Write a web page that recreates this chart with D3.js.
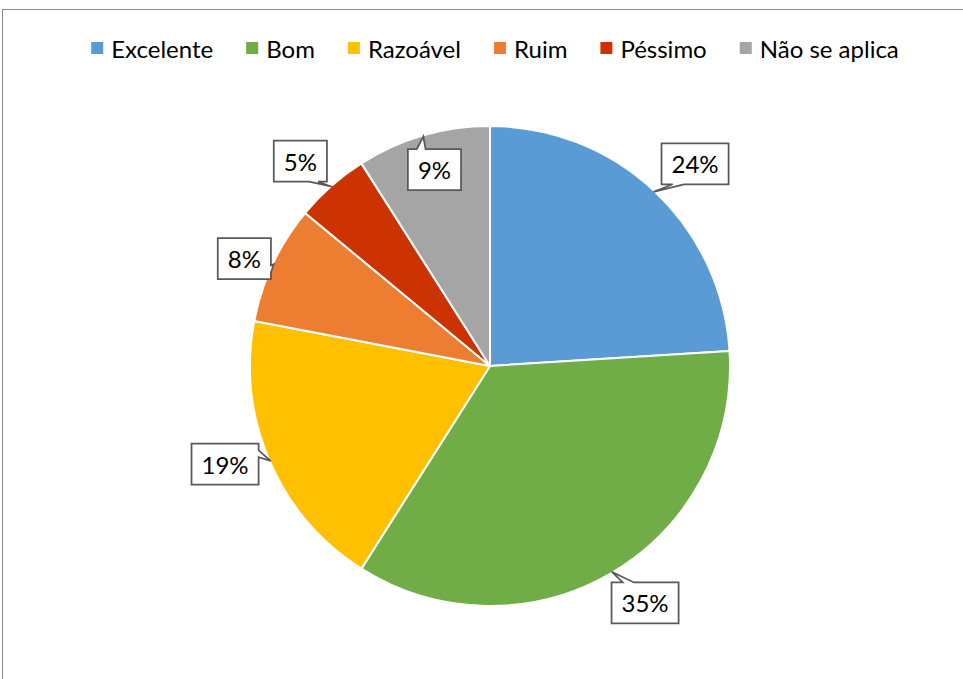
<!DOCTYPE html>
<html>
<head>
<meta charset="utf-8">
<script src="https://cdn.jsdelivr.net/npm/d3@7"></script>
<style>
  body { margin: 0; background: #fff; }
  svg { display: block; }
  text { font-family: Lato, "Noto Sans", sans-serif; fill: #000; }
</style>
</head>
<body>
<svg id="chart" width="963" height="679"></svg>
<script>
// Avaliação: share of answers per rating (percent)
const categories = ["Excelente", "Bom", "Razoável", "Ruim", "Péssimo", "Não se aplica"];
const shares = [24, 35, 19, 8, 5, 9];
const colors = ["#5B9BD5", "#70AD47", "#FFC000", "#ED7D31", "#CC3300", "#A5A5A5"];

// Callout placement: box centre distance (fraction of radius) and angular nudge in degrees
const labelRadius = [1.2, 1.18, 1.177, 1.117, 1.163, 0.85];
const labelNudge = [2.2, -2.6, 3.1, -1.6, -1.4, 0.4];

const W = 963, H = 679;
const cx = 490, cy = 366, R = 240;
const fontSize = 24;

const svg = d3.select("#chart");

// chart area frame
svg.append("rect")
  .attr("x", 2.5).attr("y", 9.5)
  .attr("width", 1000).attr("height", 1000)
  .attr("fill", "#fff")
  .attr("stroke", "#8c8c8c").attr("stroke-width", 1);

const pie = d3.pie().sort(null).value(d => d)(shares);
const arc = d3.arc().innerRadius(0).outerRadius(R);

const g = svg.append("g").attr("transform", `translate(${cx},${cy})`);
g.selectAll("path.slice")
  .data(pie)
  .join("path")
  .attr("class", "slice")
  .attr("d", arc)
  .attr("fill", (d, i) => colors[i])
  .attr("stroke", "#fff")
  .attr("stroke-width", 2)
  .attr("stroke-linejoin", "round");

// polar helper: angle measured clockwise from 12 o'clock
const polar = (a, r) => [r * Math.sin(a), -r * Math.cos(a)];

// rectangle callout with a wedge pointing at (tx, ty)
function calloutPath(x0, y0, w, h, tx, ty) {
  const x1 = x0 + w, y1 = y0 + h;
  const bx = x0 + w / 2, by = y0 + h / 2;
  const dx = (tx - bx) / w, dy = (ty - by) / h;
  let side;
  if (Math.abs(dy) > Math.abs(dx)) side = dy < 0 ? "top" : "bottom";
  else side = dx < 0 ? "left" : "right";
  const ha = tx < bx ? [x0 + w / 6, x0 + w / 3] : [x0 + 2 * w / 3, x0 + 5 * w / 6];
  const va = ty < by ? [y0 + h / 6, y0 + h / 3] : [y0 + 2 * h / 3, y0 + 5 * h / 6];
  const p = [];
  p.push([x0, y0]);
  if (side === "top") p.push([ha[0], y0], [tx, ty], [ha[1], y0]);
  p.push([x1, y0]);
  if (side === "right") p.push([x1, va[0]], [tx, ty], [x1, va[1]]);
  p.push([x1, y1]);
  if (side === "bottom") p.push([ha[1], y1], [tx, ty], [ha[0], y1]);
  p.push([x0, y1]);
  if (side === "left") p.push([x0, va[1]], [tx, ty], [x0, va[0]]);
  return "M" + p.map(q => q.join(",")).join("L") + "Z";
}

// data labels
const labels = g.selectAll("g.label").data(pie).join("g").attr("class", "label");
labels.each(function (d, i) {
  const sel = d3.select(this);
  const mid = (d.startAngle + d.endAngle) / 2;
  const la = mid + labelNudge[i] * Math.PI / 180;
  const [lx, ly] = polar(la, R * labelRadius[i]);
  const [tx, ty] = polar(mid, R - 1);
  const path = sel.append("path");
  const txt = sel.append("text")
    .attr("x", lx).attr("y", ly)
    .attr("text-anchor", "middle")
    .attr("dominant-baseline", "central")
    .attr("font-size", fontSize)
    .text(d3.format(".0f")(shares[i]) + "%");
  const tw = txt.node().getComputedTextLength();
  const bw = tw + 20, bh = 41;
  path.attr("d", calloutPath(lx - bw / 2, ly - bh / 2, bw, bh, tx, ty))
    .attr("fill", "#fff")
    .attr("stroke", "#595959")
    .attr("stroke-width", 1.75)
    .attr("stroke-linejoin", "miter");
});

// legend
const legend = svg.append("g");
const items = legend.selectAll("g").data(categories).join("g");
items.append("rect")
  .attr("width", 12).attr("height", 12)
  .attr("y", -6)
  .attr("fill", (d, i) => colors[i]);
items.append("text")
  .attr("x", 20).attr("y", 0)
  .attr("dominant-baseline", "central")
  .attr("font-size", fontSize)
  .text(d => d);
let xpos = 0;
const gap = 33;
items.each(function () {
  const w = 20 + d3.select(this).select("text").node().getComputedTextLength();
  d3.select(this).attr("transform", `translate(${xpos},0)`);
  xpos += w + gap;
});
const total = xpos - gap;
legend.attr("transform", `translate(${495 - total / 2},48)`);
</script>
</body>
</html>
